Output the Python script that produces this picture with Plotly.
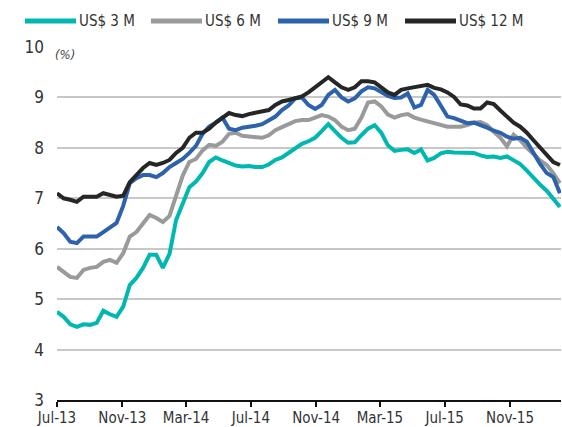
import plotly.graph_objects as go
import pandas as pd

dates = pd.date_range("2013-07-01", "2016-02-03", periods=77)

us3m = [4.75, 4.65, 4.5, 4.45, 4.5, 4.49, 4.53, 4.77, 4.7, 4.65,
        4.85, 5.28, 5.42, 5.62, 5.88, 5.88, 5.62, 5.9, 6.57, 6.87,
        7.22, 7.33, 7.5, 7.72, 7.81, 7.75, 7.7, 7.65, 7.63, 7.64,
        7.62, 7.62, 7.67, 7.76, 7.81, 7.9, 8.01, 8.08, 8.13, 8.2,
        8.33, 8.47, 8.33, 8.2, 8.1, 8.11, 8.25, 8.38, 8.45, 8.3,
        8.05, 7.94, 7.96, 7.97, 7.9, 7.97, 7.75, 7.8, 7.89, 7.92,
        7.91, 7.91, 7.89, 7.9, 7.85, 7.82, 7.83, 7.8, 7.83, 7.76,
        7.68, 7.55, 7.4, 7.27, 7.15, 7.0, 6.83]

us6m = [5.64, 5.54, 5.44, 5.42, 5.58, 5.62, 5.64, 5.74, 5.78, 5.72,
        5.91, 6.24, 6.33, 6.5, 6.67, 6.61, 6.53, 6.65, 7.05, 7.45,
        7.72, 7.78, 7.95, 8.06, 8.04, 8.12, 8.28, 8.3, 8.24, 8.22,
        8.21, 8.2, 8.25, 8.35, 8.41, 8.46, 8.53, 8.55, 8.55, 8.6,
        8.65, 8.62, 8.55, 8.42, 8.35, 8.38, 8.6, 8.9, 8.92, 8.82,
        8.66, 8.6, 8.65, 8.67, 8.6, 8.56, 8.53, 8.49, 8.46, 8.42,
        8.42, 8.42, 8.45, 8.5, 8.51, 8.45, 8.32, 8.2, 8.03, 8.26,
        8.15, 8.0, 7.88, 7.75, 7.66, 7.5, 7.3]

us9m = [6.43, 6.31, 6.14, 6.11, 6.24, 6.24, 6.24, 6.33, 6.41, 6.51,
        6.85, 7.3, 7.4, 7.46, 7.46, 7.42, 7.5, 7.62, 7.7, 7.78,
        7.9, 8.04, 8.28, 8.42, 8.5, 8.6, 8.38, 8.35, 8.4, 8.43,
        8.44, 8.47, 8.55, 8.62, 8.75, 8.84, 8.98, 9.0, 8.85, 8.77,
        8.85, 9.05, 9.15, 9.0, 8.92, 8.98, 9.12, 9.2, 9.18, 9.1,
        9.03, 8.99, 9.0, 9.08, 8.8, 8.85, 9.15, 9.05, 8.85, 8.62,
        8.59, 8.55, 8.49, 8.5, 8.46, 8.4, 8.34, 8.3, 8.22, 8.18,
        8.2, 8.12, 7.9, 7.68, 7.5, 7.42, 7.1]

us12m = [7.1, 7.0, 6.97, 6.93, 7.03, 7.03, 7.03, 7.1, 7.06, 7.03,
         7.05, 7.32, 7.46, 7.6, 7.7, 7.66, 7.7, 7.76, 7.9, 8.0,
         8.2, 8.3, 8.3, 8.38, 8.5, 8.6, 8.69, 8.65, 8.63, 8.67,
         8.7, 8.72, 8.75, 8.85, 8.92, 8.95, 8.99, 9.02, 9.1, 9.2,
         9.3, 9.4, 9.3, 9.2, 9.15, 9.2, 9.32, 9.32, 9.3, 9.2,
         9.1, 9.05, 9.15, 9.18, 9.2, 9.24, 9.25, 9.19, 9.16, 9.1,
         9.01, 8.86, 8.84, 8.78, 8.78, 8.9, 8.87, 8.74, 8.61, 8.5,
         8.42, 8.3, 8.15, 8.0, 7.88, 7.72, 7.66]

names = ["US$ 3 M", "US$ 6 M", "US$ 9 M", "US$ 12 M"]
series = [us3m, us6m, us9m, us12m]
colors = ["#00B8B0", "#9A9A9A", "#2D62AC", "#262626"]

FONT = "DejaVu Sans Condensed, Liberation Sans Narrow, Liberation Sans, sans-serif"

fig = go.Figure()
for name, vals, col in zip(names, series, colors):
    fig.add_trace(go.Scatter(x=dates, y=vals, mode="lines", name=name,
                             line=dict(color=col, width=4), showlegend=False))

W = 504.0
H = 353.0
def px(x):
    return (x - 57) / W
def py(y):
    return (400 - y) / H

leg_x = [25, 151, 278, 405]
for lx, name, col in zip(leg_x, names, colors):
    fig.add_shape(type="line", xref="paper", yref="paper",
                  x0=px(lx), x1=px(lx + 51), y0=py(21), y1=py(21),
                  line=dict(color=col, width=5))
    fig.add_annotation(xref="paper", yref="paper", x=px(lx + 52), y=py(21),
                       text=name, showarrow=False, xanchor="left", yanchor="middle",
                       font=dict(family=FONT, size=15, color="#333333"))

fig.add_annotation(xref="paper", yref="paper", x=px(52), y=py(55), text="<i>(%)</i>",
                   showarrow=False, xanchor="left", yanchor="middle", bgcolor="white",
                   borderpad=2, font=dict(family=FONT, size=13, color="#444444"))

fig.update_layout(
    width=562, height=427,
    margin=dict(l=57, r=1, t=47, b=27, autoexpand=False),
    paper_bgcolor="white", plot_bgcolor="white",
    font=dict(family=FONT, size=15, color="#333333"),
)
fig.update_xaxes(
    range=["2013-07-01", "2016-02-05"],
    tickvals=["2013-07-01", "2013-11-01", "2014-03-01", "2014-07-01", "2014-11-01",
              "2015-03-01", "2015-07-01", "2015-11-01"],
    tickformat="%b-%y",
    showgrid=False, showline=True, linecolor="#111111", linewidth=2,
    ticks="outside", ticklen=5, tickwidth=2, tickcolor="#111111",
    ticklabelstandoff=-2,
    tickfont=dict(family=FONT, size=15, color="#333333"),
    zeroline=False, automargin=False,
)
fig.update_yaxes(
    range=[3, 10], dtick=1, tick0=3,
    showgrid=True, gridcolor="#C8C8C8", gridwidth=2,
    zeroline=False, showline=False,
    ticks="", ticklabelstandoff=12,
    tickfont=dict(family=FONT, size=17, color="#333333"),
    automargin=False,
)

fig.write_html("out.html", config={"displayModeBar": False},
               post_script="document.body.style.margin='0px';document.body.style.overflow='hidden';")
